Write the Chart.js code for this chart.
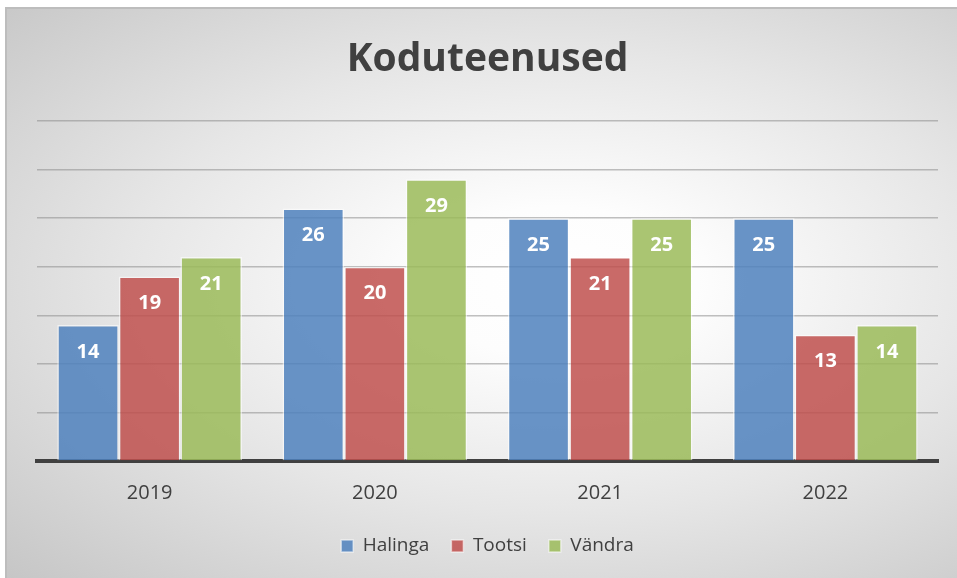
<!DOCTYPE html>
<html>
<head>
<meta charset="utf-8">
<script src="https://cdn.jsdelivr.net/npm/chart.js@4.4.1/dist/chart.umd.min.js"></script>
<style>
  html, body { margin: 0; padding: 0; width: 957px; height: 578px; overflow: hidden; background: #fff; }
  #frame {
    position: absolute; left: 5px; top: 7px; width: 952px; height: 571px;
    border-left: 2px solid #bdbdbd; border-top: 2px solid #bdbdbd; box-sizing: border-box;
    background: radial-gradient(ellipse farthest-corner at 58% 48%, #ffffff 0%, #fdfdfd 18%, #e6e6e6 55%, #c6c6c6 100%);
  }
  #chart { position: absolute; left: 0; top: 0; }
</style>
</head>
<body>
<div id="frame"></div>
<canvas id="chart" width="957" height="578"></canvas>
<script>
// data
const years = ["2019", "2020", "2021", "2022"];
const halinga = [14, 26, 25, 25];
const tootsi = [19, 20, 21, 13];
const vandra = [21, 29, 25, 14];
const seriesNames = ["Halinga", "Tootsi", "Vändra"];

const FONT = "'Open Sans', sans-serif";
const TEXT = "#404040";

// white numbers inside the top of each bar
const valueLabels = {
  id: "valueLabels",
  afterDatasetsDraw(chart) {
    const ctx = chart.ctx;
    ctx.save();
    ctx.font = "bold 20px " + FONT;
    ctx.fillStyle = "#fff";
    ctx.textAlign = "center";
    ctx.textBaseline = "middle";
    chart.data.datasets.forEach((ds, i) => {
      chart.getDatasetMeta(i).data.forEach((bar, j) => {
        ctx.fillText(ds.data[j], bar.x, bar.y + 27);
      });
    });
    ctx.restore();
  }
};

const ctx = document.getElementById("chart").getContext("2d");
new Chart(ctx, {
  type: "bar",
  data: {
    labels: years,
    datasets: [
      { label: seriesNames[0], data: halinga, backgroundColor: "rgba(79,129,189,0.85)" },
      { label: seriesNames[1], data: tootsi, backgroundColor: "rgba(192,80,77,0.85)" },
      { label: seriesNames[2], data: vandra, backgroundColor: "rgba(155,187,89,0.85)" }
    ].map(d => Object.assign(d, {
      borderColor: "rgba(255,255,255,0.55)",
      borderWidth: 1.5,
      categoryPercentage: 0.82,
      barPercentage: 1.0
    }))
  },
  options: {
    responsive: false,
    animation: false,
    layout: { padding: { left: 37, right: 19, top: 0, bottom: 12.5 } },
    plugins: {
      title: {
        display: true,
        text: "Koduteenused",
        color: TEXT,
        font: { family: FONT, size: 39, weight: "bold", lineHeight: 1.2 },
        padding: { top: 36, bottom: 38.2 }
      },
      legend: {
        position: "bottom",
        labels: {
          color: TEXT,
          font: { family: FONT, size: 19 },
          boxWidth: 12,
          boxHeight: 12,
          padding: 22
        }
      },
      tooltip: { enabled: false }
    },
    scales: {
      x: {
        grid: { display: false, drawTicks: false },
        border: { display: true, color: "#404040", width: 4 },
        ticks: { color: TEXT, font: { family: FONT, size: 20 }, padding: 20 },
        afterFit: (scale) => { scale.height = 53.5; }
      },
      y: {
        min: 0,
        max: 35,
        ticks: { display: false, stepSize: 5 },
        grid: { color: "rgba(140,140,140,0.55)", lineWidth: 1.5, drawTicks: false },
        border: { display: false }
      }
    }
  },
  plugins: [valueLabels]
});
</script>
</body>
</html>
